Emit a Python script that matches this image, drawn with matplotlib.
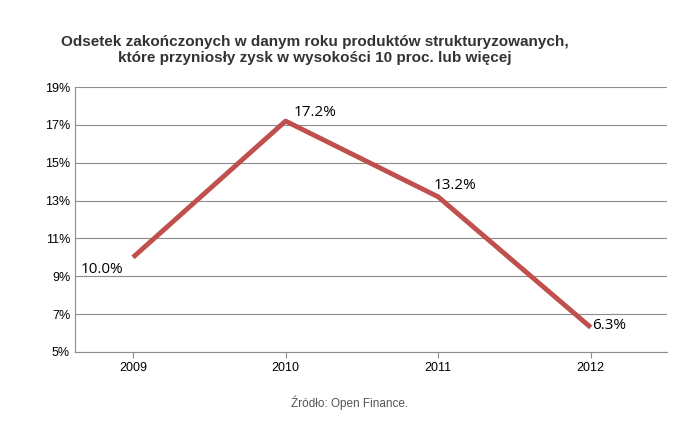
import matplotlib
matplotlib.use("Agg")
import matplotlib.pyplot as plt

years = ["2009", "2010", "2011", "2012"]
values = [10.0, 17.2, 13.2, 6.3]
yticks = [5, 7, 9, 11, 13, 15, 17, 19]

plt.rcParams['font.family'] = ['Liberation Sans', 'DejaVu Sans']
fig = plt.figure(figsize=(6.85, 4.21), dpi=100)
ax = fig.add_axes([75/685, 69/421, (667-75)/685, (352-87)/421])
x = list(range(len(years)))
ax.plot(x, values, color='#c0504d', lw=3.5, solid_capstyle='butt')
ax.set_xlim(-0.38, 3.5)
ax.set_ylim(5, 19)
ax.set_yticks(yticks)
ax.set_yticklabels([f"{t}%" for t in yticks], fontsize=9)
ax.set_xticks(x)
ax.set_xticklabels(years, fontsize=9)
ax.yaxis.grid(True, color='#8c8c8c', lw=0.8)
ax.set_axisbelow(True)
for s in ['top', 'right']:
    ax.spines[s].set_visible(False)
ax.spines['left'].set_color('#8c8c8c')
ax.spines['bottom'].set_color('#8c8c8c')
ax.tick_params(axis='both', length=4, color='#8c8c8c')
ax.tick_params(axis='y', length=0)
offsets = [(-0.34, -0.65), (0.05, 0.45), (-0.03, 0.6), (0.01, 0.1)]
for xi, v, (dx, dy) in zip(x, values, offsets):
    ax.text(xi + dx, v + dy, f"{v:.1f}%", fontsize=11, family=['Open Sans', 'DejaVu Sans'],
            ha='left', va='center')
fig.text(0.46, 1 - 50/421, "Odsetek zakończonych w danym roku produktów strukturyzowanych,\nktóre przyniosły zysk w wysokości 10 proc. lub więcej",
         ha='center', va='center', fontsize=11, fontweight='bold', color='#333333', linespacing=1.1)
fig.text(0.51, 1 - 403/421, "Źródło: Open Finance.", ha='center', va='center', fontsize=8.5, color='#555555')
fig.savefig("out.png", dpi=100)
